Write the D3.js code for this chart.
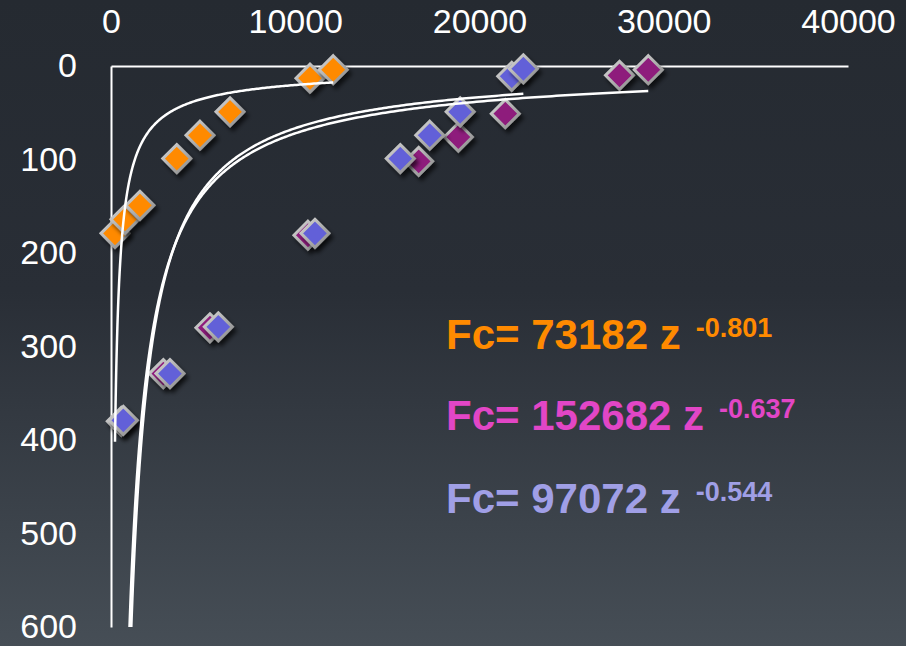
<!DOCTYPE html>
<html>
<head>
<meta charset="utf-8">
<script src="https://cdn.jsdelivr.net/npm/d3@7"></script>
<style>
  html, body { margin: 0; padding: 0; background: #262b32; }
  svg { display: block; }
  text { font-family: "Liberation Sans", Arial, sans-serif; }
</style>
</head>
<body>
<svg id="chart" width="906" height="646"></svg>
<script>
// Critical force Fc versus depth z for three sample series
const fcOrange  = [217, 760, 1570, 3570, 4830, 6460, 10800, 12060];
const zOrange   = [179, 164, 149, 99, 74, 49, 13, 4];
const fcMagenta = [560, 2840, 5370, 10690, 16700, 18850, 21400, 27600, 29160];
const zMagenta  = [380, 329, 280, 181, 102, 76, 51, 10, 4];
const fcBlue    = [668, 3200, 5825, 11070, 15700, 17300, 18950, 21750, 22380];
const zBlue     = [379, 329, 279, 179, 99, 74, 49, 11, 3];

const xTicks = [0, 10000, 20000, 30000, 40000];
const yTicks = [0, 100, 200, 300, 400, 500, 600];

// Fit equations as printed beside the plot
const eqCoef = ["73182", "152682", "97072"];
const eqExp  = ["-0.801", "-0.637", "-0.544"];
const eqColors = ["#ff8a00", "#e246c6", "#a09fe6"];

const markerColors = ["#ff8a00", "#8e1a7c", "#6260d8"];

const svg = d3.select("#chart");
const W = 906, H = 646;

const x = d3.scaleLinear().domain([0, 40000]).range([111, 848]);
const y = d3.scaleLinear().domain([0, 600]).range([66, 627]);

const defs = svg.append("defs");

// background gradient
const bg = defs.append("linearGradient").attr("id", "bg")
  .attr("x1", 0).attr("y1", 0).attr("x2", 0).attr("y2", 1);
bg.append("stop").attr("offset", "0%").attr("stop-color", "#252a31");
bg.append("stop").attr("offset", "45%").attr("stop-color", "#292e36");
bg.append("stop").attr("offset", "100%").attr("stop-color", "#464e56");
svg.append("rect").attr("width", W).attr("height", H).attr("fill", "url(#bg)");

// marker drop shadow
const sh = defs.append("filter").attr("id", "shadow")
  .attr("x", "-50%").attr("y", "-50%").attr("width", "200%").attr("height", "200%");
sh.append("feDropShadow").attr("dx", 3).attr("dy", 4).attr("stdDeviation", 2.2)
  .attr("flood-color", "#000").attr("flood-opacity", 0.65);

// bevelled border for markers
const bevel = defs.append("linearGradient").attr("id", "bevel")
  .attr("x1", 0).attr("y1", 0).attr("x2", 1).attr("y2", 1);
bevel.append("stop").attr("offset", "0%").attr("stop-color", "#d6d6d6");
bevel.append("stop").attr("offset", "55%").attr("stop-color", "#ababab");
bevel.append("stop").attr("offset", "100%").attr("stop-color", "#8a8a8a");

defs.append("clipPath").attr("id", "plotClip")
  .append("rect").attr("x", x(0)).attr("y", y(0))
  .attr("width", x(40000) - x(0)).attr("height", y(600) - y(0));

// axes: values across the top, depth down the left
const xAxis = svg.append("g").attr("transform", `translate(0,${y(0)})`)
  .call(d3.axisTop(x).tickValues(xTicks).tickFormat(d3.format("d"))
    .tickSize(0).tickSizeOuter(0).tickPadding(33));
const yAxis = svg.append("g").attr("transform", `translate(${x(0)},0)`)
  .call(d3.axisLeft(y).tickValues(yTicks).tickFormat(d3.format("d"))
    .tickSize(0).tickSizeOuter(0).tickPadding(34));
[xAxis, yAxis].forEach(g => {
  g.select(".domain").attr("stroke", "#ffffff").attr("stroke-width", 2);
  g.selectAll("text").attr("fill", "#ffffff").attr("font-size", 34)
    .attr("font-family", "'Liberation Sans', Arial, sans-serif");
});

// markers
const series = [
  { fc: fcMagenta, z: zMagenta, color: markerColors[1] },
  { fc: fcBlue,    z: zBlue,    color: markerColors[2] },
  { fc: fcOrange,  z: zOrange,  color: markerColors[0] }
];
const r = 14;
const diamond = `M0,${-r}L${r},0L0,${r}L${-r},0Z`;
series.forEach(s => {
  svg.append("g").selectAll("path")
    .data(s.fc.map((f, i) => [f, s.z[i]]))
    .join("path")
    .attr("d", diamond)
    .attr("transform", d => `translate(${x(d[0])},${y(d[1])})`)
    .attr("fill", s.color)
    .attr("stroke", "url(#bevel)")
    .attr("stroke-width", 3)
    .attr("filter", "url(#shadow)");
});

// power-law trendlines z = c * Fc^d, least squares in log space
function powerFit(fc, z) {
  const lx = fc.map(Math.log), ly = z.map(Math.log);
  const mx = d3.mean(lx), my = d3.mean(ly);
  let sxy = 0, sxx = 0;
  lx.forEach((v, i) => { sxy += (v - mx) * (ly[i] - my); sxx += (v - mx) * (v - mx); });
  const d = sxy / sxx;
  return { c: Math.exp(my - d * mx), d: d };
}
const line = d3.line().x(d => x(d[0])).y(d => y(d[1]));
const trendG = svg.append("g").attr("clip-path", "url(#plotClip)");
[[fcOrange, zOrange], [fcMagenta, zMagenta], [fcBlue, zBlue]].forEach(([fc, z]) => {
  const fit = powerFit(fc, z);
  const lo = Math.log(d3.min(fc)), hi = Math.log(d3.max(fc));
  const pts = d3.range(0, 401).map(i => {
    const f = Math.exp(lo + (hi - lo) * i / 400);
    return [f, fit.c * Math.pow(f, fit.d)];
  }).filter(p => p[1] <= 640);
  trendG.append("path").datum(pts).attr("d", line)
    .attr("fill", "none").attr("stroke", "#ffffff").attr("stroke-width", 2.5);
});

// fit equations
const eqBase = [349, 430, 513];
eqCoef.forEach((c, i) => {
  const t = svg.append("text")
    .attr("x", 446).attr("y", eqBase[i])
    .attr("fill", eqColors[i])
    .attr("font-weight", "bold")
    .attr("font-size", 42);
  t.append("tspan").text(`Fc= ${c} z`);
  t.append("tspan").attr("dx", 15).attr("dy", -12)
    .attr("font-size", 27).text(eqExp[i]);
});
</script>
</body>
</html>
